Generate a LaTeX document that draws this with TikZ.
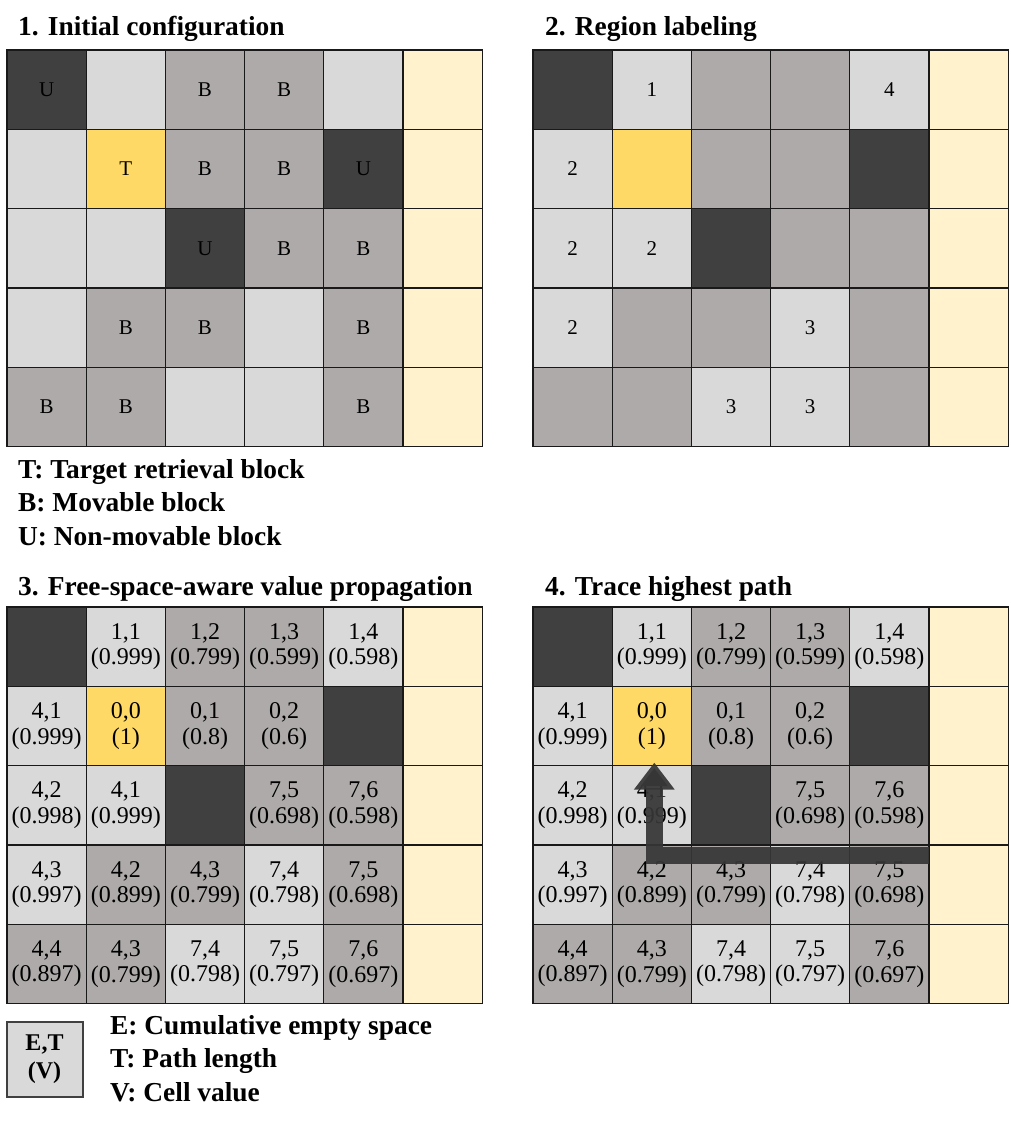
\documentclass[tikz,border=0pt]{standalone}
\usepackage{fontspec}
\setmainfont{Liberation Serif}
\usetikzlibrary{arrows.meta,calc}
\definecolor{unmov}{HTML}{404040}
\definecolor{pathdark}{HTML}{363636}
\definecolor{free}{HTML}{D9D9D9}
\definecolor{movbl}{HTML}{AEAAAA}
\definecolor{target}{HTML}{FFD966}
\definecolor{exitlane}{HTML}{FFF2CC}
\newcommand{\cw}{79.2}
\newcommand{\ch}{79.3}
\tikzset{
  cell/.style={draw=black!90, line width=1.3pt, minimum width=\cw pt, minimum height=\ch pt, inner sep=0pt, outer sep=0pt, align=center},
  celld/.style={fill=unmov},
  celll/.style={fill=free},
  cellb/.style={fill=movbl},
  cellt/.style={fill=target},
  celly/.style={fill=exitlane},
  lettercell/.style={font=\fontsize{21}{24}\selectfont},
  valuecell/.style={font=\fontsize{24}{25.5}\selectfont},
  heading/.style={anchor=base west, font=\bfseries\fontsize{27.4}{30}\selectfont, inner sep=0pt},
  legend/.style={anchor=base west, font=\bfseries\fontsize{27.4}{30}\selectfont, inner sep=0pt},
  keybox/.style={draw=unmov, line width=2pt, fill=free, minimum width=76pt, minimum height=75pt, align=center, font=\bfseries\fontsize{24}{28}\selectfont},
  tracearrow/.style={draw=pathdark, draw opacity=0.93, line width=17pt, line join=miter, -{Triangle[length=27pt,width=39pt]}}
}
% #1 name, #2/#3 top left corner, #4 text style, #5 rows of colour/label
\newcommand{\cellgrid}[5]{%
  \foreach \row [count=\r from 0] in {#5} {
    \foreach \k/\t [count=\c from 0] in \row
      \node[cell, cell\k, #4] (#1-\r-\c) at ({#2+(\c+0.5)*\cw},{#3+(\r+0.5)*\ch}) {\t};
  }}

\begin{document}
\begin{tikzpicture}[x=1pt, y=-1pt]
\useasboundingbox (0,0) rectangle (1011,1125);

% 1. initial configuration
\node[heading] (h1) at (18,35) {1. Initial configuration};
\cellgrid{ga}{7}{50}{lettercell}{
  {d/U,l/,b/B,b/B,l/,y/},
  {l/,t/T,b/B,b/B,d/U,y/},
  {l/,l/,d/U,b/B,b/B,y/},
  {l/,b/B,b/B,l/,b/B,y/},
  {b/B,b/B,l/,l/,b/B,y/}}
\node[legend] (la) at (18,478) {T: Target retrieval block};
\node[legend] (lb) at (18,511) {B: Movable block};
\node[legend] (lc) at (18,545) {U: Non-movable block};

% 2. region labeling
\node[heading] (h2) at (545,35) {2. Region labeling};
\cellgrid{gb}{533}{50}{lettercell}{
  {d/,l/1,b/,b/,l/4,y/},
  {l/2,t/,b/,b/,d/,y/},
  {l/2,l/2,d/,b/,b/,y/},
  {l/2,b/,b/,l/3,b/,y/},
  {b/,b/,l/3,l/3,b/,y/}}

% 3. value propagation
\node[heading] (h3) at (18,595) {3. Free-space-aware value propagation};
\cellgrid{gc}{7}{607}{valuecell}{
  {d/,l/{1,1\\(0.999)},b/{1,2\\(0.799)},b/{1,3\\(0.599)},l/{1,4\\(0.598)},y/},
  {l/{4,1\\(0.999)},t/{0,0\\(1)},b/{0,1\\(0.8)},b/{0,2\\(0.6)},d/,y/},
  {l/{4,2\\(0.998)},l/{4,1\\(0.999)},d/,b/{7,5\\(0.698)},b/{7,6\\(0.598)},y/},
  {l/{4,3\\(0.997)},b/{4,2\\(0.899)},b/{4,3\\(0.799)},l/{7,4\\(0.798)},b/{7,5\\(0.698)},y/},
  {b/{4,4\\(0.897)},b/{4,3\\(0.799)},l/{7,4\\(0.798)},l/{7,5\\(0.797)},b/{7,6\\(0.697)},y/}}
\node[keybox] (key) at (44.5,1059) {E,T\\(V)};
\node[legend] (le) at (110,1034) {E: Cumulative empty space};
\node[legend] (lt) at (110,1067) {T: Path length};
\node[legend] (lv) at (110,1101) {V: Cell value};

% 4. highest path
\node[heading] (h4) at (545,595) {4. Trace highest path};
\cellgrid{gd}{533}{607}{valuecell}{
  {d/,l/{1,1\\(0.999)},b/{1,2\\(0.799)},b/{1,3\\(0.599)},l/{1,4\\(0.598)},y/},
  {l/{4,1\\(0.999)},t/{0,0\\(1)},b/{0,1\\(0.8)},b/{0,2\\(0.6)},d/,y/},
  {l/{4,2\\(0.998)},l/{4,1\\(0.999)},d/,b/{7,5\\(0.698)},b/{7,6\\(0.598)},y/},
  {l/{4,3\\(0.997)},b/{4,2\\(0.899)},b/{4,3\\(0.799)},l/{7,4\\(0.798)},b/{7,5\\(0.698)},y/},
  {b/{4,4\\(0.897)},b/{4,3\\(0.799)},l/{7,4\\(0.798)},l/{7,5\\(0.797)},b/{7,6\\(0.697)},y/}}
\coordinate (pstart) at ($(gd-3-4.north east)+(0,11)$);
\coordinate (ptip) at ($(gd-1-1.south)+(2.5,-3)$);
\draw[tracearrow] (pstart) -| (ptip);
\end{tikzpicture}
\end{document}
